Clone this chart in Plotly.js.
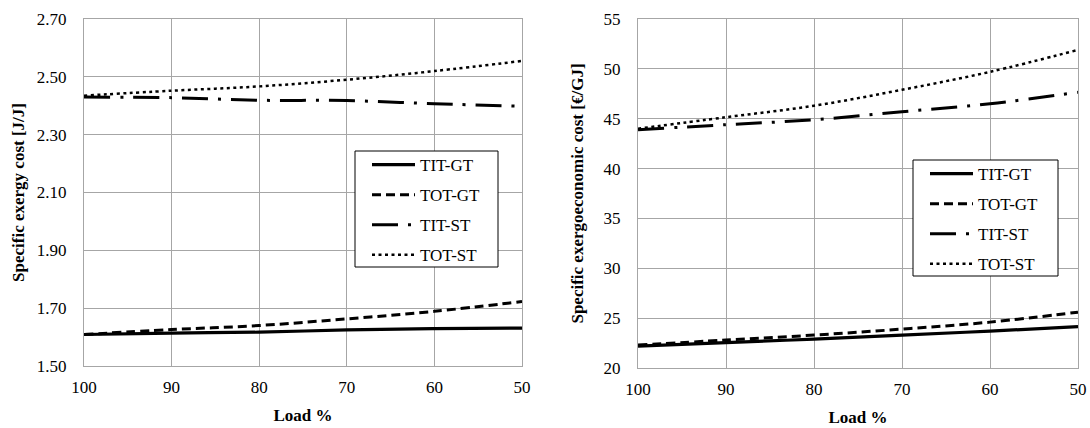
<!DOCTYPE html>
<html>
<head>
<meta charset="utf-8">
<script src="https://cdn.plot.ly/plotly-3.0.1.min.js"></script>
<style>html,body{margin:0;padding:0;background:#fff}#chart{width:1090px;height:428px}</style>
</head>
<body>
<div id="chart"></div>
<script>
const load = [100, 90, 80, 70, 60, 50];
const seriesNames = ["TIT-GT", "TOT-GT", "TIT-ST", "TOT-ST"];

// Left chart: specific exergy cost [J/J]
const exergyTITGT = [1.609, 1.614, 1.617, 1.625, 1.629, 1.631];
const exergyTOTGT = [1.609, 1.626, 1.640, 1.663, 1.689, 1.723];
const exergyTITST = [2.430, 2.428, 2.419, 2.418, 2.407, 2.398];
const exergyTOTST = [2.435, 2.452, 2.467, 2.490, 2.520, 2.555];

// Right chart: specific exergoeconomic cost [€/GJ]
const econTITGT = [22.2, 22.55, 22.9, 23.3, 23.7, 24.15];
const econTOTGT = [22.3, 22.8, 23.3, 23.9, 24.6, 25.6];
const econTITST = [43.9, 44.4, 44.9, 45.7, 46.5, 47.65];
const econTOTST = [44.0, 45.15, 46.3, 47.9, 49.7, 51.9];

const leftTicks = [1.50, 1.70, 1.90, 2.10, 2.30, 2.50, 2.70];
const rightTicks = [20, 25, 30, 35, 40, 45, 50, 55];
const xTicks = [100, 90, 80, 70, 60, 50];

const styles = [
  {dash: "solid", width: 3.2},
  {dash: "9px,5px", width: 3},
  {dash: "26px,10px,3px,10px", width: 3},
  {dash: "3px,3.5px", width: 2.5}
];

function mk(y, i, xa, ya, leg) {
  return {
    x: load, y: y, name: seriesNames[i], type: "scatter", mode: "lines",
    xaxis: xa, yaxis: ya, legend: leg, legendgroup: leg + i,
    line: {color: "#000", dash: styles[i].dash, width: styles[i].width, shape: "spline"}
  };
}

const leftData = [exergyTITGT, exergyTOTGT, exergyTITST, exergyTOTST];
const rightData = [econTITGT, econTOTGT, econTITST, econTOTST];
const traces = [];
leftData.forEach((d, i) => traces.push(mk(d, i, "x", "y", "legend")));
rightData.forEach((d, i) => traces.push(mk(d, i, "x2", "y2", "legend2")));

const fam = "'Liberation Serif', 'Times New Roman', serif";
const font = {family: fam, size: 17, color: "#000"};
const titleFont = {family: fam, size: 17, color: "#000"};
const gridC = "#a6a6a6";

const xBase = {
  range: [100, 50], tickvals: xTicks, ticktext: xTicks.map(String),
  showgrid: true, gridcolor: gridC, gridwidth: 1,
  showline: true, linecolor: gridC, mirror: true, zeroline: false,
  ticks: "", ticklabelstandoff: 6, tickfont: font,
  title: {text: "<b>Load %</b>", font: titleFont, standoff: 12}
};
const yBase = {
  showgrid: true, gridcolor: gridC, gridwidth: 1,
  showline: true, linecolor: gridC, mirror: true, zeroline: false,
  ticks: "", ticklabelstandoff: 13, tickfont: font
};

const legBase = {
  bgcolor: "rgba(0,0,0,0)", borderwidth: 0,
  font: font, tracegroupgap: 5, xanchor: "left", yanchor: "top",
  itemwidth: 43
};

// legend frames (paper pixel boxes)
const W = 1090, H = 428;
function frame(x0, y0, x1, y1) {
  return {type: "rect", xref: "paper", yref: "paper", layer: "above",
    x0: x0 / W, x1: x1 / W, y0: 1 - y0 / H, y1: 1 - y1 / H,
    fillcolor: "#fff", line: {color: "#000", width: 1}};
}

const layout = {
  width: W, height: H,
  margin: {l: 0, r: 0, t: 0, b: 0},
  paper_bgcolor: "#fff", plot_bgcolor: "#fff",
  font: font,
  showlegend: true,
  xaxis: Object.assign({}, xBase, {domain: [84/W, 522/W], anchor: "y"}),
  yaxis: Object.assign({}, yBase, {
    domain: [1 - 366/H, 1 - 19/H], anchor: "x",
    range: [1.50, 2.70], tickvals: leftTicks, ticktext: leftTicks.map(v => v.toFixed(2)),
    title: {text: "<b>Specific exergy cost [J/J]</b>", font: titleFont, standoff: 7}
  }),
  xaxis2: Object.assign({}, xBase, {domain: [638/W, 1078/W], anchor: "y2"}),
  yaxis2: Object.assign({}, yBase, {
    domain: [1 - 368/H, 1 - 19/H], anchor: "x2",
    range: [20, 55], tickvals: rightTicks, ticktext: rightTicks.map(String),
    title: {text: "<b>Specific exergoeconomic cost [€/GJ]</b>", font: titleFont, standoff: 15}
  }),
  shapes: [frame(355, 151, 498, 267), frame(913, 160, 1058, 276)],
  legend: Object.assign({}, legBase, {x: 367/W, y: 1 - 147/H}),
  legend2: Object.assign({}, legBase, {x: 925/W, y: 1 - 156/H})
};

Plotly.newPlot("chart", traces, layout, {staticPlot: true, displayModeBar: false});
</script>
</body>
</html>
